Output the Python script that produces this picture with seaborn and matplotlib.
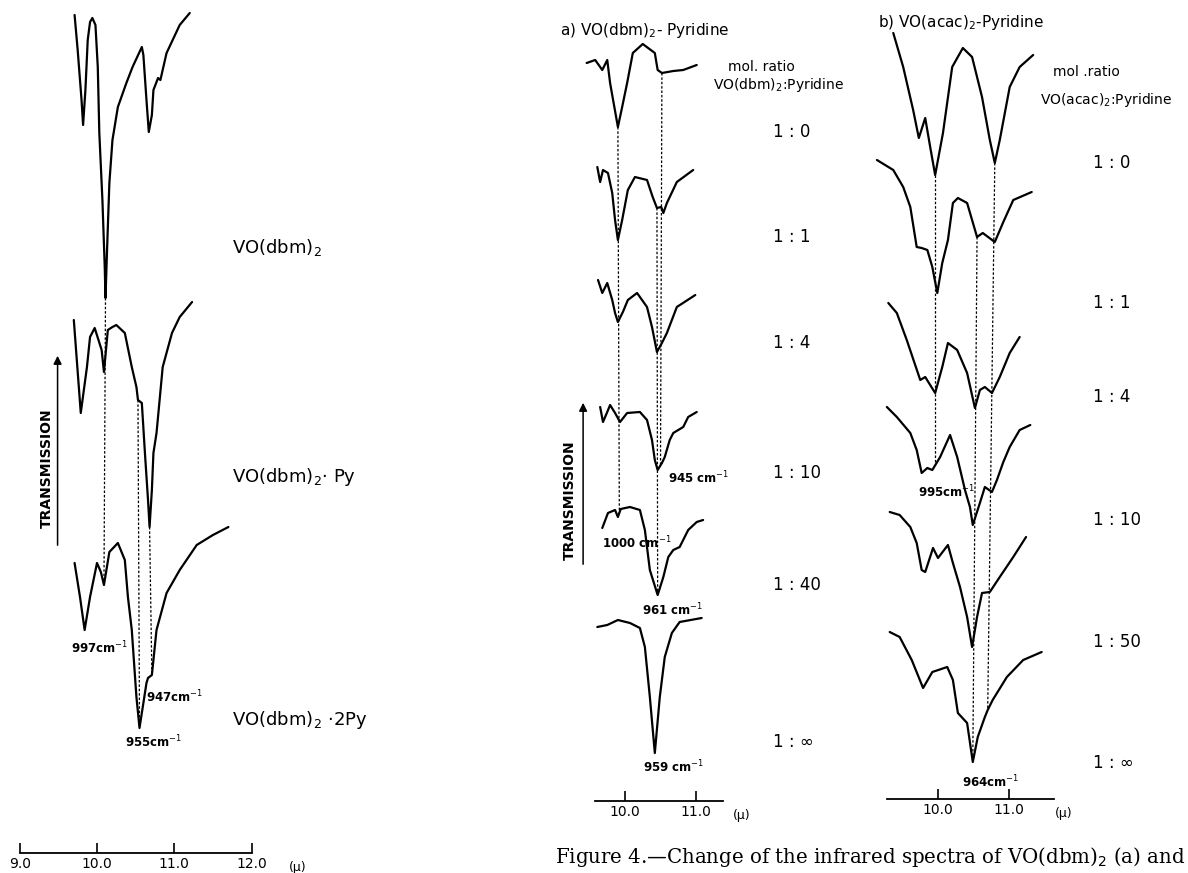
import numpy as np
import pandas as pd
import matplotlib
matplotlib.use("Agg")
import matplotlib.pyplot as plt
import seaborn as sns

sns.set_style("white")
plt.rcParams['font.family'] = ['DejaVu Sans']
plt.rcParams['text.color'] = 'black'
plt.rcParams['xtick.color'] = 'black'

"""
DATA  (wavelength in micron, transmission in arbitrary units above each trace's own zero)
"""
# left: VO(dbm)2 adducts, full spectra
left_labels = [r"VO(dbm)$_2$", r"VO(dbm)$_2$· Py", r"VO(dbm)$_2$ ·2Py"]
left_wl = [
    [9.71, 9.75, 9.80, 9.82, 9.85, 9.88, 9.91, 9.94, 9.98, 10.01, 10.03, 10.07, 10.10, 10.11, 10.13, 10.16,
     10.20, 10.27, 10.38, 10.46, 10.58, 10.60, 10.64, 10.67, 10.71, 10.73, 10.79, 10.82, 10.90, 11.07, 11.20],
    [9.70, 9.79, 9.87, 9.91, 9.97, 10.06, 10.09, 10.14, 10.20, 10.25, 10.36, 10.45, 10.51, 10.53, 10.58,
     10.62, 10.66, 10.68, 10.71, 10.73, 10.77, 10.85, 10.97, 11.07, 11.23],
    [9.71, 9.78, 9.84, 9.91, 10.00, 10.05, 10.09, 10.16, 10.27, 10.36, 10.40, 10.45, 10.51, 10.55, 10.64,
     10.66, 10.71, 10.77, 10.90, 11.07, 11.29, 11.50, 11.70],
]
left_t = [
    [285, 250, 200, 175, 210, 260, 278, 282, 275, 233, 167, 100, 33, 2, 50, 117,
     160, 193, 217, 233, 253, 245, 200, 168, 185, 210, 222, 220, 247, 275, 287],
    [210, 117, 163, 193, 202, 180, 158, 200, 203, 205, 197, 163, 143, 130, 127,
     77, 30, 3, 40, 77, 97, 163, 197, 213, 228],
    [167, 133, 100, 133, 167, 158, 145, 178, 187, 170, 133, 100, 33, 2, 47,
     52, 55, 100, 137, 160, 185, 195, 203],
]
left_peaks = [("997cm$^{-1}$", 9.67, 648), ("947cm$^{-1}$", 10.64, 697), ("955cm$^{-1}$", 10.36, 742)]

# a) VO(dbm)2 - pyridine
mid_ratios = ["1 : 0", "1 : 1", "1 : 4", "1 : 10", "1 : 40", "1 : ∞"]
mid_wl = [
    [9.46, 9.58, 9.68, 9.75, 9.79, 9.85, 9.90, 9.96, 10.03, 10.11, 10.25, 10.42, 10.46, 10.52, 10.68, 10.82, 11.01],
    [9.61, 9.65, 9.69, 9.76, 9.82, 9.86, 9.90, 9.96, 10.04, 10.14, 10.31, 10.39, 10.45, 10.51, 10.54, 10.59, 10.73, 10.96],
    [9.62, 9.68, 9.75, 9.82, 9.86, 9.90, 9.97, 10.04, 10.17, 10.31, 10.38, 10.45, 10.52, 10.59, 10.73, 10.99],
    [9.65, 9.69, 9.75, 9.79, 9.86, 9.93, 10.03, 10.21, 10.31, 10.38, 10.42, 10.46, 10.52, 10.56, 10.63, 10.68,
     10.82, 10.89, 11.01],
    [9.68, 9.76, 9.86, 9.90, 9.94, 10.07, 10.21, 10.28, 10.35, 10.46, 10.54, 10.61, 10.68, 10.77, 10.89, 11.01, 11.10],
    [9.61, 9.75, 9.90, 10.07, 10.21, 10.28, 10.35, 10.42, 10.49, 10.56, 10.66, 10.77, 11.08],
]
mid_t = [
    [67, 70, 60, 70, 47, 23, 3, 23, 47, 77, 86, 77, 60, 57, 59, 60, 65],
    [78, 63, 75, 72, 52, 25, 5, 25, 55, 68, 65, 48, 37, 38, 32, 42, 63, 75],
    [75, 62, 72, 55, 42, 33, 43, 55, 62, 48, 28, 3, 12, 22, 48, 60],
    [68, 53, 63, 70, 62, 53, 62, 63, 55, 35, 15, 5, 12, 18, 35, 42, 48, 58, 63],
    [72, 87, 90, 83, 91, 93, 90, 70, 30, 5, 23, 43, 50, 53, 70, 78, 80],
    [128, 130, 135, 132, 127, 108, 58, 2, 58, 98, 122, 133, 137],
]
mid_peaks = [("945 cm$^{-1}$", 10.61, 478), ("1000 cm$^{-1}$", 9.68, 543),
             ("961 cm$^{-1}$", 10.24, 610), ("959 cm$^{-1}$", 10.25, 767)]

# b) VO(acac)2 - pyridine
right_ratios = ["1 : 0", "1 : 1", "1 : 4", "1 : 10", "1 : 50", "1 : ∞"]
right_wl = [
    [9.37, 9.51, 9.65, 9.73, 9.82, 9.89, 9.96, 10.07, 10.20, 10.35, 10.48, 10.62, 10.73, 10.80, 10.87, 11.01, 11.15, 11.34],
    [9.14, 9.37, 9.51, 9.61, 9.70, 9.77, 9.85, 9.92, 9.99, 10.06, 10.14, 10.21, 10.28, 10.41, 10.48, 10.55, 10.63,
     10.80, 10.92, 11.06, 11.32],
    [9.30, 9.42, 9.56, 9.75, 9.82, 9.96, 10.06, 10.14, 10.27, 10.41, 10.52, 10.59, 10.66, 10.76, 10.87, 11.01, 11.15],
    [9.28, 9.42, 9.61, 9.70, 9.77, 9.85, 9.92, 10.03, 10.17, 10.27, 10.38, 10.45, 10.49, 10.59, 10.66, 10.76, 10.83,
     10.92, 11.01, 11.15, 11.30],
    [9.32, 9.46, 9.61, 9.70, 9.77, 9.82, 9.93, 10.00, 10.14, 10.21, 10.31, 10.41, 10.48, 10.55, 10.62, 10.73, 10.87,
     11.06, 11.24],
    [9.32, 9.46, 9.63, 9.79, 9.92, 10.13, 10.21, 10.28, 10.41, 10.49, 10.56, 10.66, 10.70, 10.77, 10.97, 11.20, 11.46],
]
right_t = [
    [147, 113, 70, 42, 62, 33, 5, 47, 113, 132, 123, 83, 40, 17, 40, 93, 113, 125],
    [135, 125, 108, 88, 48, 47, 45, 28, 2, 32, 55, 92, 97, 92, 75, 58, 62, 53, 73, 95, 103],
    [107, 97, 70, 30, 33, 17, 43, 67, 60, 37, 2, 20, 23, 17, 33, 57, 73],
    [123, 113, 97, 80, 57, 62, 60, 73, 95, 73, 40, 23, 5, 27, 43, 38, 50, 68, 83, 100, 105],
    [138, 135, 123, 107, 80, 78, 102, 92, 105, 87, 63, 33, 3, 33, 57, 58, 73, 93, 113],
    [133, 128, 105, 77, 93, 98, 85, 52, 42, 3, 28, 48, 55, 65, 88, 105, 113],
]
right_peaks = [("995cm$^{-1}$", 9.72, 492), ("964cm$^{-1}$", 10.34, 782)]

# dotted guide lines: (wl on upper trace, upper trace, wl on lower trace, lower trace)
left_guides = [(10.11, 0, 10.09, 2), (10.53, 1, 10.55, 2), (10.68, 1, 10.71, 2)]
mid_guides = [(9.90, 0, 9.92, 4), (10.52, 0, 10.50, 3), (10.45, 1, 10.46, 4)]
right_guides = [(9.96, 0, 9.96, 3), (10.55, 1, 10.49, 5), (10.80, 0, 10.70, 5)]

"""
LAYOUT (figure pixels, rows counted from the top)
"""
W, H = 1188, 873
left_offsets = [300, 530, 730]
mid_offsets = [130, 245, 355, 475, 600, 755]
right_offsets = [180, 295, 410, 530, 650, 765]


def make_axes(fig, px0, px1, x10, px_per_um):
    ax = fig.add_axes([px0 / W, 0, (px1 - px0) / W, 1])
    ax.set_xlim(10 + (px0 - x10) / px_per_um, 10 + (px1 - x10) / px_per_um)
    ax.set_ylim(-H, 0)
    ax.patch.set_visible(False)
    for s in ["left", "right", "top"]:
        ax.spines[s].set_visible(False)
    ax.set_yticks([])
    return ax


def draw_traces(ax, wls, ts, offsets, guides):
    rows = []
    for i, (w, t) in enumerate(zip(wls, ts)):
        for a, b in zip(w, t):
            rows.append({"trace": i, "wl": a, "y": b - offsets[i]})
    df = pd.DataFrame(rows)
    sns.lineplot(data=df, x="wl", y="y", units="trace", estimator=None, sort=False,
                 color="black", lw=1.6, ax=ax, legend=False)
    for w_top, i_top, w_bot, i_bot in guides:
        y_top = np.interp(w_top, wls[i_top], ts[i_top]) - offsets[i_top]
        y_bot = np.interp(w_bot, wls[i_bot], ts[i_bot]) - offsets[i_bot]
        ax.plot([w_top, w_bot], [y_top, y_bot], color="black", lw=0.9, ls=(0, (2.0, 1.5)))
    ax.set_xlabel("")
    ax.set_ylabel("")


def draw_scale(ax, row, lo, hi, ticks, labels, unit_x, fs=10):
    ax.spines["bottom"].set_position(("data", -row))
    ax.spines["bottom"].set_bounds(lo, hi)
    ax.spines["bottom"].set_linewidth(1.3)
    ax.spines["bottom"].set_color("black")
    ax.set_xticks(ticks)
    ax.set_xticklabels(labels, fontsize=fs)
    ax.tick_params(axis="x", direction="in", length=7, width=1.2, pad=3, bottom=True)
    ax.text(unit_x, -row - 14, "(µ)", fontsize=9, ha="left", va="center")


def transmission_label(ax, x_text, x_arrow, row_mid, row_lo, row_hi):
    ax.text(x_text, -row_mid, "TRANSMISSION", rotation=90, fontsize=10, fontweight="bold",
            ha="center", va="center")
    ax.annotate("", xy=(x_arrow, -row_hi), xytext=(x_arrow, -row_lo),
                arrowprops=dict(arrowstyle="-|>", lw=1.1, color="black", mutation_scale=12))


def peak_labels(ax, peaks):
    for txt, x, row in peaks:
        ax.text(x, -row, txt, fontsize=8.5, fontweight="bold", ha="left", va="center")


fig = plt.figure(figsize=(W / 100, H / 100), dpi=100)
fig.patch.set_facecolor("white")

# left panel
ax_l = make_axes(fig, 0, 440, 97, 77.3)
draw_traces(ax_l, left_wl, left_t, left_offsets, left_guides)
draw_scale(ax_l, 853, 9.0, 12.0, [9.0, 10.0, 11.0, 12.0], ["9.0", "10.0", "11.0", "12.0"], 12.48)
for txt, row in zip(left_labels, [247, 477, 720]):
    ax_l.text(11.74, -row, txt, fontsize=13, ha="left", va="center")
peak_labels(ax_l, left_peaks)
transmission_label(ax_l, 9.35, 9.49, 468, 548, 353)

# middle panel
ax_m = make_axes(fig, 540, 860, 625, 71)
draw_traces(ax_m, mid_wl, mid_t, mid_offsets, mid_guides)
draw_scale(ax_m, 801, 9.58, 11.38, [10.0, 11.0], ["10.0", "11.0"], 11.52)
ax_m.text(9.08, -30, r"a) VO(dbm)$_2$- Pyridine", fontsize=11, ha="left", va="center")
ax_m.text(11.45, -67, "mol. ratio", fontsize=10, ha="left", va="center")
ax_m.text(11.24, -85, r"VO(dbm)$_2$:Pyridine", fontsize=10, ha="left", va="center")
for txt, row in zip(mid_ratios, [132, 237, 343, 473, 585, 742]):
    ax_m.text(12.08, -row, txt, fontsize=12, ha="left", va="center")
peak_labels(ax_m, mid_peaks)
transmission_label(ax_m, 9.23, 9.41, 500, 567, 400)

# right panel
ax_r = make_axes(fig, 860, 1188, 938, 71)
draw_traces(ax_r, right_wl, right_t, right_offsets, right_guides)
draw_scale(ax_r, 799, 9.28, 11.63, [10.0, 11.0], ["10.0", "11.0"], 11.65)
ax_r.text(9.15, -23, r"b) VO(acac)$_2$-Pyridine", fontsize=11, ha="left", va="center")
ax_r.text(11.62, -72, "mol .ratio", fontsize=10, ha="left", va="center")
ax_r.text(11.44, -100, r"VO(acac)$_2$:Pyridine", fontsize=10, ha="left", va="center")
for txt, row in zip(right_ratios, [163, 303, 397, 520, 642, 763]):
    ax_r.text(12.18, -row, txt, fontsize=12, ha="left", va="center")
peak_labels(ax_r, right_peaks)

fig.text(555 / W, 1 - 857 / H, r"Figure 4.—Change of the infrared spectra of VO(dbm)$_2$ (a) and",
         fontsize=14.2, family="DejaVu Serif", ha="left", va="center")

fig.savefig("out.png", dpi=100, facecolor="white")
